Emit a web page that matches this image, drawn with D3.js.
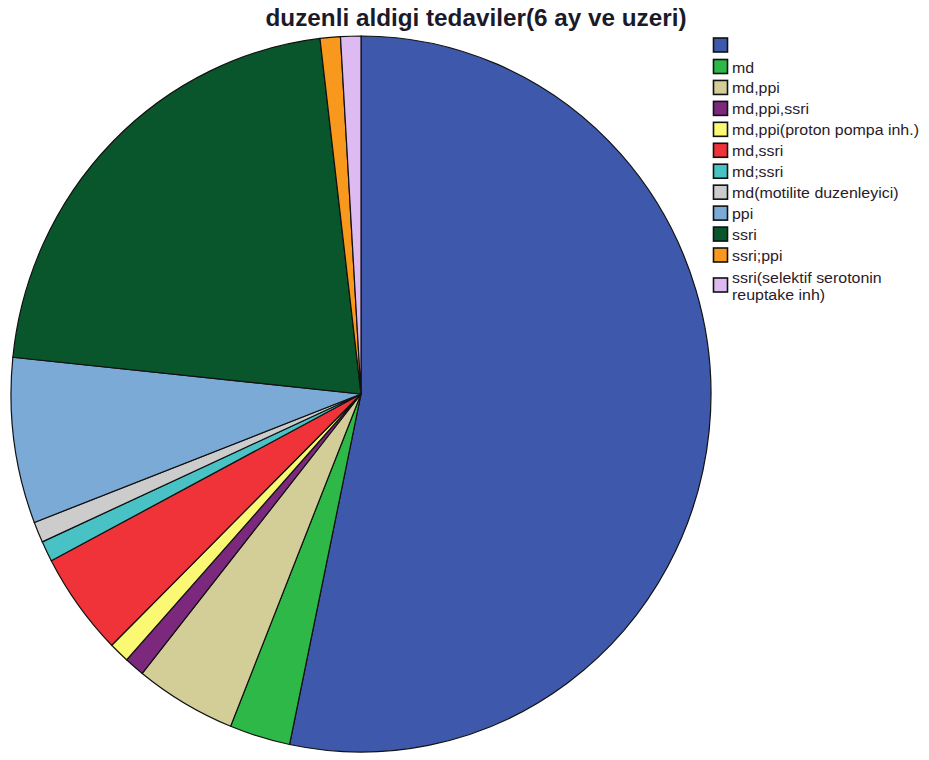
<!DOCTYPE html>
<html>
<head>
<meta charset="utf-8">
<script src="https://cdn.jsdelivr.net/npm/d3@7"></script>
<style>
  body { margin: 0; background: #fff; }
  text { font-family: "Liberation Sans", Arial, sans-serif; }
</style>
</head>
<body>
<div id="chart"></div>
<script>
// counts (slice angles)
const categories = ['', 'md', 'md,ppi', 'md,ppi,ssri', 'md,ppi(proton pompa inh.)', 'md,ssri', 'md;ssri',
  'md(motilite duzenleyici)', 'ppi', 'ssri', 'ssri;ppi', 'ssri(selektif serotonin reuptake inh)'];
const counts = [57, 3, 5, 1, 1, 5, 1, 1, 8, 23, 1, 1];
const colors = ['#3e58ac', '#2eb848', '#d3ce97', '#7c287d', '#fbf873', '#ef3338', '#48c2c5',
  '#cccccc', '#7aaad5', '#0a562c', '#f8981d', '#ddbaf1'];
const legendLines = [[''], ['md'], ['md,ppi'], ['md,ppi,ssri'], ['md,ppi(proton pompa inh.)'], ['md,ssri'],
  ['md;ssri'], ['md(motilite duzenleyici)'], ['ppi'], ['ssri'], ['ssri;ppi'], ['ssri(selektif serotonin', 'reuptake inh)']];

const width = 929, height = 760;
const cx = 361, cy = 394, rx = 350, ry = 358;

const svg = d3.select('#chart').append('svg')
  .attr('width', width).attr('height', height);

svg.append('text')
  .attr('x', 476).attr('y', 26)
  .attr('text-anchor', 'middle')
  .attr('textLength', 421)
  .attr('lengthAdjust', 'spacingAndGlyphs')
  .style('font-size', '23px').style('font-weight', 'bold')
  .attr('fill', '#1a1a2a')
  .text('duzenli aldigi tedaviler(6 ay ve uzeri)');

const data = categories.map((c, i) => ({name: c, value: counts[i], color: colors[i]}));

const pie = d3.pie().value(d => d.value).sort(null);
const arcFn = d3.arc().innerRadius(0).outerRadius(rx);

const g = svg.append('g')
  .attr('transform', `translate(${cx},${cy}) scale(1,${ry / rx})`);

g.selectAll('path')
  .data(pie(data))
  .enter().append('path')
  .attr('d', arcFn)
  .attr('fill', d => d.data.color)
  .attr('stroke', '#111')
  .attr('stroke-width', 1.2)
  .attr('vector-effect', 'non-scaling-stroke');

// legend
const legend = svg.append('g');
const rowY = d3.scaleLinear().domain([1, 10]).range([66.5, 255]);

const items = legend.selectAll('g')
  .data(data)
  .enter().append('g')
  .attr('transform', (d, i) => {
    let y = i === 0 ? 45 : rowY(i);
    if (i === 11) y = 285;
    return `translate(713,${y})`;
  });

items.append('rect')
  .attr('x', 0.5).attr('y', -7)
  .attr('width', 14).attr('height', 14)
  .attr('fill', d => d.color)
  .attr('stroke', '#111').attr('stroke-width', 1.6);

items.each(function(d, i) {
  const lines = legendLines[i];
  const t = d3.select(this).append('text')
    .attr('transform', 'translate(19,0) scale(1.1,1)')
    .style('font-size', '14.5px')
    .attr('fill', '#2a1a2a');
  lines.forEach((l, k) => {
    t.append('tspan')
      .attr('x', 0)
      .attr('y', lines.length > 1 ? -2 + k * 17 : 6)
      .text(l);
  });
});
</script>
</body>
</html>
